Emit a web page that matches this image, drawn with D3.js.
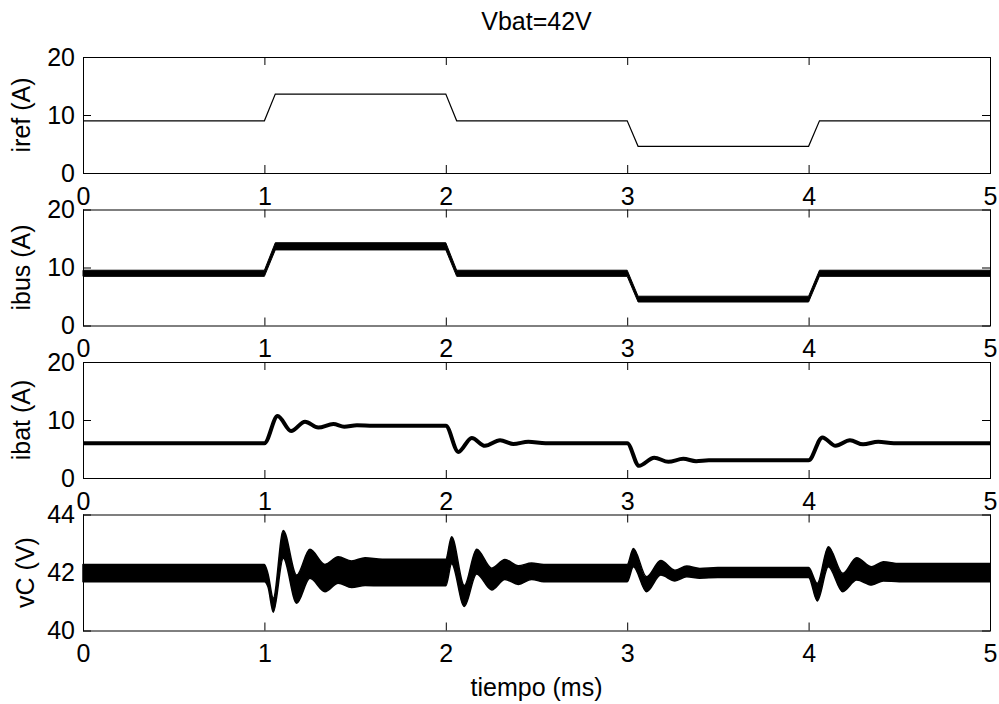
<!DOCTYPE html>
<html>
<head>
<meta charset="utf-8">
<script src="https://cdn.jsdelivr.net/npm/d3@7"></script>
<style>
  body { margin: 0; background: #fff; }
  svg { display: block; }
  text { font-family: "Liberation Sans", Arial, Helvetica, sans-serif; }
</style>
</head>
<body>
<svg id="chart" width="999" height="704"></svg>
<script>
// ---- time axis (ms) ----
const timeTicks = [0, 1, 2, 3, 4, 5];

// ---- iref: current reference (A) ----
const irefT = [0, 1, 1.06, 2, 2.06, 3, 3.06, 4, 4.06, 5];
const irefA = [9, 9, 13.6, 13.6, 9, 9, 4.6, 4.6, 9, 9];

// ---- ibus: bus current, mean value and switching ripple half-amplitude (A) ----
const ibusT = [0, 1, 1.06, 2, 2.06, 3, 3.06, 4, 4.06, 5];
const ibusMid = [9, 9, 13.65, 13.65, 9, 9, 4.55, 4.55, 9, 9];
const ibusRipple = [0.53, 0.53, 0.62, 0.62, 0.53, 0.53, 0.5, 0.5, 0.53, 0.53];

// ---- ibat: battery current (A) ----
const ibatT = [0, 1.0, 1.073, 1.147, 1.224, 1.297, 1.38, 1.44, 1.51, 1.6, 2.0,
               2.069, 2.143, 2.216, 2.299, 2.372, 2.455, 2.55, 3.0,
               3.065, 3.149, 3.227, 3.309, 3.38, 3.45, 4.0,
               4.076, 4.149, 4.228, 4.30, 4.384, 4.47, 5.0];
const ibatA = [6.0, 6.0, 10.7, 8.1, 9.7, 8.7, 9.3, 8.85, 9.1, 9.0, 9.0,
               4.5, 6.9, 5.55, 6.5, 5.85, 6.25, 6.0, 6.0,
               2.1, 3.5, 2.8, 3.3, 2.9, 3.05, 3.05,
               7.0, 5.55, 6.5, 5.8, 6.25, 6.0, 6.0];

// ---- vC: capacitor voltage envelope (V) ----
const vcT = [0, 1.0, 1.02, 1.049, 1.104, 1.178, 1.251, 1.334, 1.407, 1.481, 1.555, 1.65,
             2.0, 2.032, 2.102, 2.17, 2.253, 2.326, 2.40, 2.473, 2.54,
             3.0, 3.034, 3.107, 3.185, 3.263, 3.328, 3.40, 3.5,
             4.0, 4.048, 4.109, 4.188, 4.265, 4.348, 4.412, 4.5, 5.0];
const vcHigh = [42.28, 42.28, 41.95, 41.11, 43.45, 41.91, 42.80, 42.28, 42.54, 42.40, 42.51, 42.46,
                42.46, 43.23, 41.55, 42.80, 42.15, 42.45, 42.23, 42.33, 42.28,
                42.28, 42.83, 41.85, 42.41, 42.08, 42.22, 42.14, 42.17,
                42.17, 41.63, 42.89, 41.97, 42.51, 42.2, 42.37, 42.31, 42.31];
const vcLow = [41.68, 41.68, 41.5, 40.63, 42.49, 40.94, 41.80, 41.34, 41.63, 41.48, 41.55, 41.54,
               41.54, 42.3, 40.83, 41.95, 41.40, 41.76, 41.59, 41.76, 41.68,
               41.68, 42.2, 41.34, 41.91, 41.71, 41.85, 41.80, 41.83,
               41.83, 41.02, 42.2, 41.34, 41.74, 41.57, 41.71, 41.68, 41.68];

// ---- panel definitions ----
const panelLabels = ["iref (A)", "ibus (A)", "ibat (A)", "vC (V)"];
const panelDomains = [[0, 20], [0, 20], [0, 20], [40, 44]];
const panelTicks = [[0, 10, 20], [0, 10, 20], [0, 10, 20], [40, 42, 44]];

const titleText = "Vbat=42V";
const xLabelText = "tiempo (ms)";

// ---- layout ----
const svg = d3.select("#chart");
const FONT = 25;
const left = 83, right = 990;
const firstTop = 57, step = 152.5, ph = 116;
const tickLen = 8;

const x = d3.scaleLinear().domain([0, 5]).range([left, right]);

function makePanel(i) {
  const top = firstTop + i * step;
  const bottom = top + ph;
  const y = d3.scaleLinear().domain(panelDomains[i]).range([bottom, top]);
  const g = svg.append("g").attr("class", "panel");
  const data = g.append("g").attr("class", "data");
  const axes = g.append("g").attr("class", "axes");
  return { i, top, bottom, y, data, axes };
}

function drawAxes(p) {
  const style = sel => {
    sel.attr("font-size", FONT)
       .attr("font-family", '"Liberation Sans", Arial, Helvetica, sans-serif')
       .attr("color", "#000");
    sel.select(".domain").remove();
    sel.selectAll(".tick line").attr("stroke-width", 1);
  };
  p.axes.append("g").attr("transform", `translate(0,${p.bottom})`)
    .call(d3.axisBottom(x).tickValues(timeTicks).tickSizeInner(-tickLen).tickSizeOuter(0)
      .tickPadding(14).tickFormat(d3.format("d")))
    .call(style);
  p.axes.append("g").attr("transform", `translate(0,${p.top})`)
    .call(d3.axisTop(x).tickValues(timeTicks).tickSizeInner(-tickLen).tickSizeOuter(0)
      .tickFormat(""))
    .call(style);
  p.axes.append("g").attr("transform", `translate(${left},0)`)
    .call(d3.axisLeft(p.y).tickValues(panelTicks[p.i]).tickSizeInner(-tickLen).tickSizeOuter(0)
      .tickPadding(8).tickFormat(d3.format("d")))
    .call(style);
  p.axes.append("g").attr("transform", `translate(${right},0)`)
    .call(d3.axisRight(p.y).tickValues(panelTicks[p.i]).tickSizeInner(-tickLen).tickSizeOuter(0)
      .tickFormat(""))
    .call(style);
  p.axes.append("rect")
    .attr("x", left + 0.5).attr("y", p.top + 0.5)
    .attr("width", right - left).attr("height", ph)
    .attr("fill", "none").attr("stroke", "#000").attr("stroke-width", 1);
  const lx = p.i === 3 ? 34 : 30;
  p.axes.append("text")
    .attr("transform", `translate(${lx},${(p.top + p.bottom) / 2}) rotate(-90)`)
    .attr("text-anchor", "middle")
    .attr("font-size", FONT)
    .attr("fill", "#000")
    .text(panelLabels[p.i]);
}

const panels = [0, 1, 2, 3].map(makePanel);

// iref: thin line
{
  const p = panels[0];
  const pts = irefT.map((t, k) => [t, irefA[k]]);
  p.data.append("path")
    .datum(pts)
    .attr("d", d3.line().x(d => x(d[0])).y(d => p.y(d[1])))
    .attr("fill", "none").attr("stroke", "#000").attr("stroke-width", 1.2);
}

// ibus: ripple band
{
  const p = panels[1];
  const pts = ibusT.map((t, k) => ({ t, lo: ibusMid[k] - ibusRipple[k], hi: ibusMid[k] + ibusRipple[k] }));
  p.data.append("path")
    .datum(pts)
    .attr("d", d3.area().x(d => x(d.t)).y0(d => p.y(d.lo)).y1(d => p.y(d.hi)))
    .attr("fill", "#000").attr("stroke", "#000").attr("stroke-width", 1);
}

// ibat: thick line
{
  const p = panels[2];
  const pts = ibatT.map((t, k) => [t, ibatA[k]]);
  p.data.append("path")
    .datum(pts)
    .attr("d", d3.line().curve(d3.curveMonotoneX).x(d => x(d[0])).y(d => p.y(d[1])))
    .attr("fill", "none").attr("stroke", "#000").attr("stroke-width", 4)
    .attr("stroke-linejoin", "round");
}

// vC: ripple envelope
{
  const p = panels[3];
  const pts = vcT.map((t, k) => ({ t, lo: vcLow[k], hi: vcHigh[k] }));
  p.data.append("path")
    .datum(pts)
    .attr("d", d3.area().curve(d3.curveMonotoneX).x(d => x(d.t)).y0(d => p.y(d.lo)).y1(d => p.y(d.hi)))
    .attr("fill", "#000").attr("stroke", "#000").attr("stroke-width", 1.5)
    .attr("stroke-linejoin", "round");
}

panels.forEach(drawAxes);

// title and x-axis label
svg.append("text")
  .attr("x", (left + right) / 2).attr("y", 30)
  .attr("text-anchor", "middle").attr("font-size", FONT).attr("fill", "#000")
  .text(titleText);
svg.append("text")
  .attr("x", (left + right) / 2).attr("y", 696)
  .attr("text-anchor", "middle").attr("font-size", FONT).attr("fill", "#000")
  .text(xLabelText);
</script>
</body>
</html>
